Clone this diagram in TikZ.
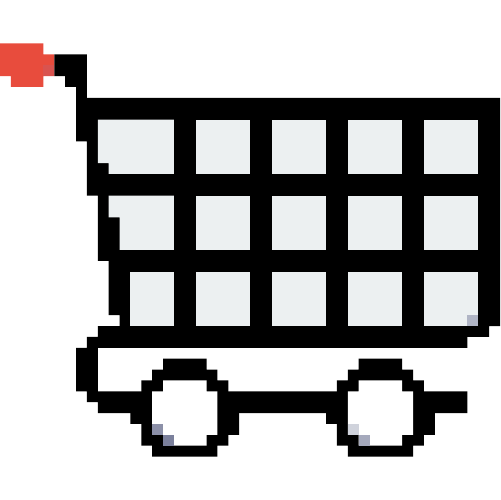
\documentclass[tikz,border=0pt]{standalone}
\usepackage{xcolor}
\definecolor{grip}{HTML}{E84C3D}
\definecolor{gripdark}{HTML}{D9534F}
\definecolor{pane}{HTML}{ECF0F1}
\begin{document}
\begin{tikzpicture}[
  x=0.25cm,y=-0.25cm,
  frame/.style={fill=black},
  pane/.style={fill=pane},
  hub/.style={fill=white},
  grip/.style={fill=grip}
]
\useasboundingbox (0,0) rectangle (46,46);
\fill[white] (0,0) rectangle (46,46);
\fill[grip] (0,4) -| (4,5) -| (5,7) -| (4,8) -| (1,7) -| cycle;
\fill[gripdark] (4,6) rectangle (5,7);
\fill[frame] (5,5) -- (8,5) -- (8,9) -- (46,9) -- (46,30) -- (45,30) -- (45,31) -- (43,31) -- (43,32) -- (9,32) -- (9,36) -- (43,36) -- (43,38) -- (9,38) -- (9,37) -- (8,37) -- (8,36) -- (7,36) -- (7,32) -- (8,32) -- (8,31) -- (9,31) -- (9,30) -- (11,30) -- (11,29) -- (10,29) -- (10,24) -- (9,24) -- (9,18) -- (8,18) -- (8,13) -- (7,13) -- (7,8) -- (6,8) -- (6,7) -- (5,7) -- cycle;
\fill[pane] (9,11) -- (16,11) -- (16,16) -- (10,16) -- (10,15) -- (9,15) -- cycle;
\fill[pane] (10,18) -- (16,18) -- (16,23) -- (11,23) -- (11,20) -- (10,20) -- cycle;
\fill[pane] (12,25) rectangle (16,30);
\foreach \cx in {18,25,32,39}
  \foreach \cy in {11,18,25}
    \fill[pane] (\cx,\cy) rectangle +(5,5);
\fill[fill={rgb,255:red,176;green,181;blue,197}] (43,29) rectangle (44,30);
\foreach \wx/\tona/\tonb in {0/8C90A8/7B809C,18/D0D3DC/A5A9BC}{
  \begin{scope}[xshift=\wx*0.25cm]
    \fill[frame] (15,33) -- (19,33) -- (19,34) -- (20,34) -- (20,35) -- (21,35) -- (21,38) -- (22,38) -- (22,40) -- (21,40) -- (21,41) -- (20,41) -- (20,42) -- (14,42) -- (14,41) -- (13,41) -- (13,39) -- (12,39) -- (12,38) -- (13,38) -- (13,35) -- (14,35) -- (14,34) -- (15,34) -- cycle;
    \fill[hub] (15,35) -- (19,35) -- (19,36) -- (20,36) -- (20,40) -- (19,40) -- (19,41) -- (15,41) -- (15,40) -- (14,40) -- (14,36) -- (15,36) -- cycle;
    \definecolor{tonea}{HTML}{\tona}
    \definecolor{toneb}{HTML}{\tonb}
    \fill[tonea] (14,39) rectangle (15,40);
    \fill[toneb] (15,40) rectangle (16,41);
  \end{scope}
}
\end{tikzpicture}
\end{document}
